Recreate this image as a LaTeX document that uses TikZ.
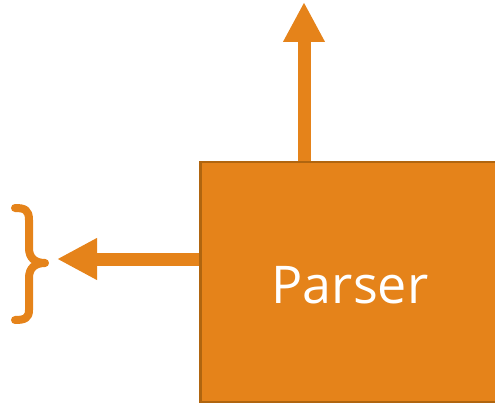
\documentclass[tikz,border=0pt]{standalone}
\usepackage{fontspec}
\setmainfont{Open Sans}
\usetikzlibrary{arrows.meta}
\definecolor{orfill}{HTML}{E5831A}
\definecolor{orline}{HTML}{B0650F}
\tikzset{
  boxstyle/.style={draw=orline, fill=orfill, line width=2.5pt, minimum width=299pt, minimum height=240pt, inner sep=0pt},
  labelstyle/.style={text=white, font=\fontsize{52}{60}\selectfont, anchor=base, inner sep=0pt},
  bigarrow/.style={draw=orfill, line width=13pt, -{Triangle[width=39pt,length=40pt]}},
  bracestyle/.style={draw=orfill, line width=8pt, line cap=round, line join=round}
}
\begin{document}
\begin{tikzpicture}[x=1pt,y=-1pt]
\useasboundingbox (0,0) rectangle (495,404);
\begin{scope}
\clip (0,0) rectangle (495,404);
\node[boxstyle] (parser) at (350,282) {};
\end{scope}
\node[labelstyle] (label) at (350,303) {Parser};
\coordinate (uptip) at (304,2);
\coordinate (lefttip) at (57,259);
\draw[bigarrow] (uptip |- parser.north) -- (uptip);
\draw[bigarrow] (parser.west |- lefttip) -- (lefttip);
\draw[bracestyle] (15,208) .. controls (25,208) and (29,210) .. (29,220)
  -- (29,248) .. controls (29,258) and (35,263) .. (45,263)
  .. controls (35,263) and (29,268) .. (29,278)
  -- (29,310) .. controls (29,318) and (25,320) .. (15,320);
\end{tikzpicture}
\end{document}
